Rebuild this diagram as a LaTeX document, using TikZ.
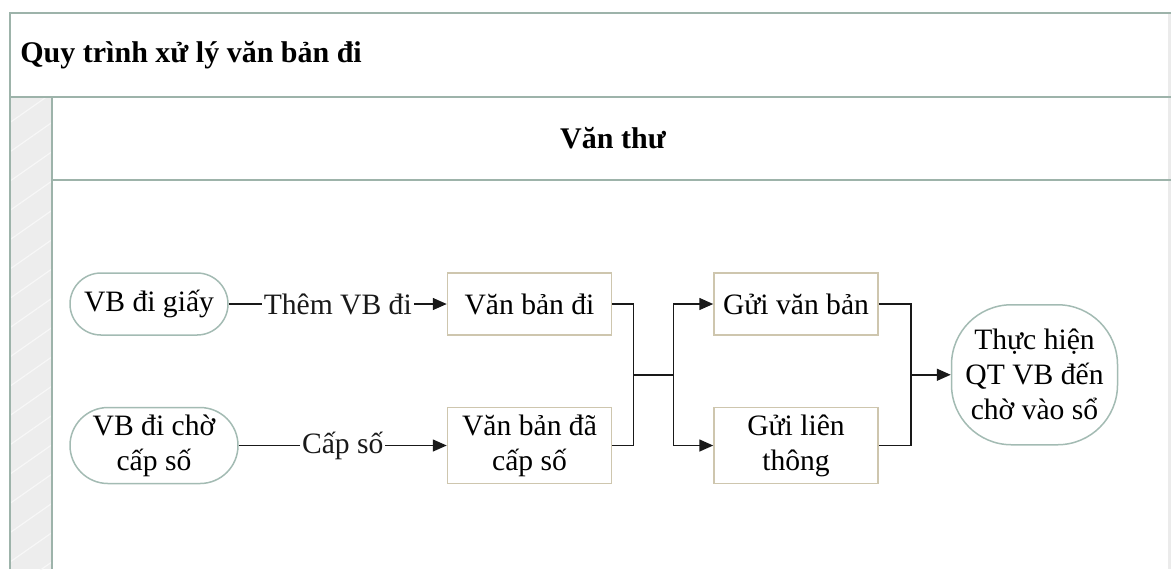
\documentclass[tikz,border=0pt]{standalone}
\usepackage{fontspec}
\setmainfont{Liberation Serif}
\usepackage{tikz}
\usetikzlibrary{arrows.meta,positioning,calc,patterns.meta}
\usepackage{xcolor}
\definecolor{laneline}{HTML}{9DB3AA}
\definecolor{termline}{HTML}{A3BBB3}
\definecolor{boxline}{HTML}{CEC6AE}
\definecolor{stripgray}{HTML}{EDEDED}
\definecolor{striphatch}{HTML}{F7F7F7}

\begin{document}
\begin{tikzpicture}[
  x=0.5pt, y=0.5pt,
  font=\fontsize{14.8}{17.5}\selectfont,
  node distance=35.5pt and 109pt,
  box/.style={draw=boxline, line width=0.75pt, align=center, minimum width=82pt, minimum height=31pt, inner sep=1pt},
  terminal/.style={draw=termline, line width=0.75pt, rounded corners=15.5pt, align=center, minimum width=79pt, minimum height=31pt, inner sep=1pt},
  arrow/.style={-{Triangle[length=7pt,width=6pt]}, line width=0.75pt, black!90},
  line/.style={line width=0.75pt, black!90},
  lbl/.style={fill=white, inner sep=1pt},
  lane/.style={draw=laneline, line width=1pt},
  heading/.style={font=\fontsize{15}{18}\selectfont\bfseries, inner sep=0pt}
]
\useasboundingbox (0,0) rectangle (1171,-569);
\fill[stripgray] (10,-97) rectangle (52,-569);
\fill[pattern={Lines[angle=35,distance=12pt,line width=0.6pt]}, pattern color=striphatch] (10,-97) rectangle (52,-569);
\draw[black!8, line width=1.5pt] (1169,-13) -- (1169,-569);
\draw[lane] (10,-569) -- (10,-13) -- (1171,-13);
\draw[lane] (10,-97) -- (1171,-97);
\draw[lane] (52,-97) -- (52,-569);
\draw[lane] (52,-180) -- (1171,-180);
\node[heading, anchor=west] (title) at (20,-55) {Quy trình xử lý văn bản đi};
\node[heading] (vanthu) at (613,-138) {Văn thư};

\node[terminal] (giay) at (149,-304) {VB đi giấy};
\node[terminal, rounded corners=19pt, minimum width=84pt, minimum height=38pt, below=of giay, xshift=2.5pt] (cho) {VB đi chờ\\cấp số};
\node[box, right=of giay] (vbdi) {Văn bản đi};
\node[box, minimum height=38pt, below=of vbdi] (vbcap) {Văn bản đã\\cấp số};
\node[box, right=50.5pt of vbdi] (guivb) {Gửi văn bản};
\node[box, minimum height=38pt, below=of guivb] (guilt) {Gửi liên\\thông};
\coordinate (j1) at ($(vbdi.east)!.5!(vbcap.east)+(10.5pt,0)$);
\coordinate (j2) at ($(j1)+(20pt,0)$);
\coordinate (j3) at ($(guivb.east)!.5!(guilt.east)+(16pt,0)$);
\node[terminal, rounded corners=30pt, minimum width=83pt, minimum height=70pt, right=20pt of j3] (thuchien) {Thực hiện\\QT VB đến\\chờ vào sổ};
\draw[arrow] (giay) -- node[lbl] {Thêm VB đi} (vbdi);
\draw[arrow] (cho) -- node[lbl] {Cấp số} (vbcap);
\draw[line] (vbdi.east) -| (j1);
\draw[line] (vbcap.east) -| (j1);
\draw[line] (j1) -- (j2);
\draw[arrow] (j2) |- (guivb);
\draw[arrow] (j2) |- (guilt);
\draw[line] (guivb.east) -| (j3);
\draw[line] (guilt.east) -| (j3);
\draw[arrow] (j3) -- (thuchien);
\end{tikzpicture}
\end{document}
